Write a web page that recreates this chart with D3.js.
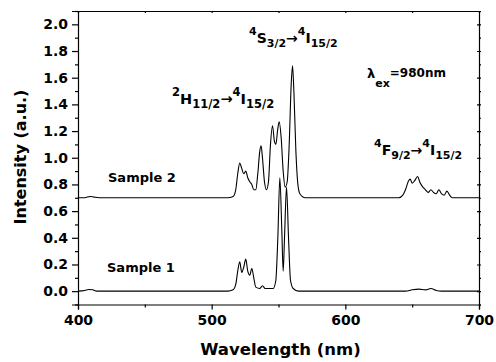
<!DOCTYPE html>
<html lang="en">
<head>
<meta charset="UTF-8">
<title>Upconversion spectra</title>
<style>
  body { margin: 0; background: #fff; }
  svg { display: block; }
  text { font-family: "DejaVu Sans", sans-serif; font-weight: bold; fill: #000; }
  .axis path, .axis line { stroke: #000; stroke-width: 1.2; }
</style>
</head>
<body>
<svg width="496" height="362"></svg>
<script src="https://d3js.org/d3.v7.min.js"></script>
<script>
// spectra (intensity already includes the vertical offset of sample 2)
var sample1Wl  = [400,405,408,411,414,512,516,518,519.5,521,522.5,524,525.5,527,528.5,530,531.5,533,536,538,540,546,548,549.5,551,552.5,553.5,554.5,556,557.5,559,561,565,645,650,655,660,664,668,672,700];
var sample1Int = [0,0.005,0.012,0.01,0,0,0.01,0.05,0.15,0.22,0.14,0.18,0.24,0.15,0.12,0.17,0.10,0.03,0.02,0.04,0.02,0.02,0.08,0.40,0.85,0.45,0.15,0.40,0.78,0.40,0.08,0.02,0,0,0.01,0.015,0.01,0.02,0.005,0,0];

var sample2Wl  = [400,405,409,412,416,512,516,518,519.5,521,522.5,524,525.5,527,528.5,530,531.5,533,534.5,536,537,538,539.5,541,542.5,544,545.5,547,548,549.5,550.5,552,553.5,555,556.5,558,559.5,560.5,561.5,563,564.5,566,570,640,643,645,647,648.5,650,652,654,656,658,660,662,664,666,668,670,672,674,676,678,680,700];
var sample2Int = [0.70,0.70,0.71,0.705,0.70,0.70,0.71,0.76,0.88,0.96,0.92,0.88,0.90,0.85,0.82,0.80,0.76,0.76,0.88,1.05,1.09,1.00,0.82,0.76,0.82,1.10,1.24,1.12,1.10,1.22,1.27,1.15,0.90,0.78,0.82,1.10,1.55,1.69,1.50,1.05,0.80,0.73,0.70,0.70,0.72,0.76,0.82,0.84,0.81,0.83,0.86,0.81,0.78,0.76,0.74,0.76,0.74,0.73,0.76,0.73,0.72,0.75,0.72,0.70,0.70];

var xMajor = [400,500,600,700];
var xMinor = [450,550,650];
var yMajor = [0,0.2,0.4,0.6,0.8,1.0,1.2,1.4,1.6,1.8,2.0];
var yMinor = [-0.1,0.1,0.3,0.5,0.7,0.9,1.1,1.3,1.5,1.7,1.9,2.1];

var svg = d3.select("svg");
var pLeft = 78, pRight = 479, pTop = 11, pBottom = 304.5;

var x = d3.scaleLinear().domain([400,700]).range([pLeft,pRight]);
var y = d3.scaleLinear().domain([-0.1,2.1]).range([pBottom,pTop]);

// axes: bottom / left with labels, top / right with small inner ticks
svg.append("g").attr("class","axis")
  .attr("transform","translate(0,"+pBottom+")")
  .call(d3.axisBottom(x).tickValues(xMajor).tickSize(5).tickPadding(6).tickFormat(d3.format("d")))
  .call(function(g){ g.selectAll("text").attr("font-size",14).attr("font-family",null); });
svg.append("g").attr("class","axis")
  .attr("transform","translate(0,"+pBottom+")")
  .call(d3.axisBottom(x).tickValues(xMinor).tickSize(3).tickFormat(""))
  .select(".domain").remove();

svg.append("g").attr("class","axis")
  .attr("transform","translate("+pLeft+",0)")
  .call(d3.axisLeft(y).tickValues(yMajor).tickSize(6).tickPadding(4).tickFormat(d3.format(".1f")))
  .call(function(g){ g.selectAll("text").attr("font-size",14).attr("font-family",null); });
svg.append("g").attr("class","axis")
  .attr("transform","translate("+pLeft+",0)")
  .call(d3.axisLeft(y).tickValues(yMinor).tickSize(3).tickFormat(""))
  .select(".domain").remove();

svg.append("g").attr("class","axis")
  .attr("transform","translate(0,"+pTop+")")
  .call(d3.axisBottom(x).tickValues(xMajor.concat(xMinor)).tickSize(2).tickFormat(""));
svg.append("g").attr("class","axis")
  .attr("transform","translate("+pRight+",0)")
  .call(d3.axisRight(y).tickValues(yMajor.concat(yMinor)).tickSize(2).tickFormat(""));
svg.append("g").attr("class","axis")
  .attr("transform","translate("+pRight+",0)")
  .call(d3.axisLeft(y).tickValues(yMajor).tickSize(2).tickFormat(""))
  .select(".domain").remove();

// spectra
var line = d3.line()
  .x(function(d){ return x(d[0]); })
  .y(function(d){ return y(d[1]); })
  .curve(d3.curveMonotoneX);

[[sample1Wl,sample1Int],[sample2Wl,sample2Int]].forEach(function(s){
  svg.append("path")
    .datum(d3.zip(s[0],s[1]))
    .attr("fill","none")
    .attr("stroke","#000")
    .attr("stroke-width",1.1)
    .attr("d",line);
});

// axis titles
svg.append("text")
  .attr("x",(pLeft+pRight)/2+2).attr("y",355)
  .attr("text-anchor","middle").attr("font-size",16.5)
  .text("Wavelength (nm)");
svg.append("text")
  .attr("transform","translate(26,157) rotate(-90)")
  .attr("text-anchor","middle").attr("font-size",16)
  .text("Intensity (a.u.)");

// rich labels with super/subscripts
function richText(px, py, parts, size, small){
  var t = svg.append("text").attr("x",px).attr("y",py).attr("font-size",size);
  var cur = 0;
  parts.forEach(function(p){
    var off = p[1] === "sup" ? -size*0.55 : p[1] === "sub" ? size*0.3 : 0;
    t.append("tspan")
      .attr("dy", off - cur)
      .attr("font-size", p[1] ? small : size)
      .text(p[0]);
    cur = off;
  });
  return t;
}

var trans = [["→"],["4","sup"],["I"],["15/2","sub"]];
richText(249, 43, [["4","sup"],["S"],["3/2","sub"]].concat(trans), 14, 11);
richText(172, 104, [["2","sup"],["H"],["11/2","sub"]].concat(trans), 14.5, 11.5);
richText(374, 155, [["4","sup"],["F"],["9/2","sub"]].concat(trans), 14, 11);

var lam = svg.append("text").attr("x",367).attr("y",78).attr("font-size",13);
lam.append("tspan").text("λ");
lam.append("tspan").attr("dy",9).attr("font-size",11).text("ex");
lam.append("tspan").attr("dy",-10).attr("font-size",12).text("=980nm");

svg.append("text").attr("x",108).attr("y",182).attr("font-size",13).text("Sample 2");
svg.append("text").attr("x",107).attr("y",272).attr("font-size",13).text("Sample 1");
</script>
</body>
</html>
